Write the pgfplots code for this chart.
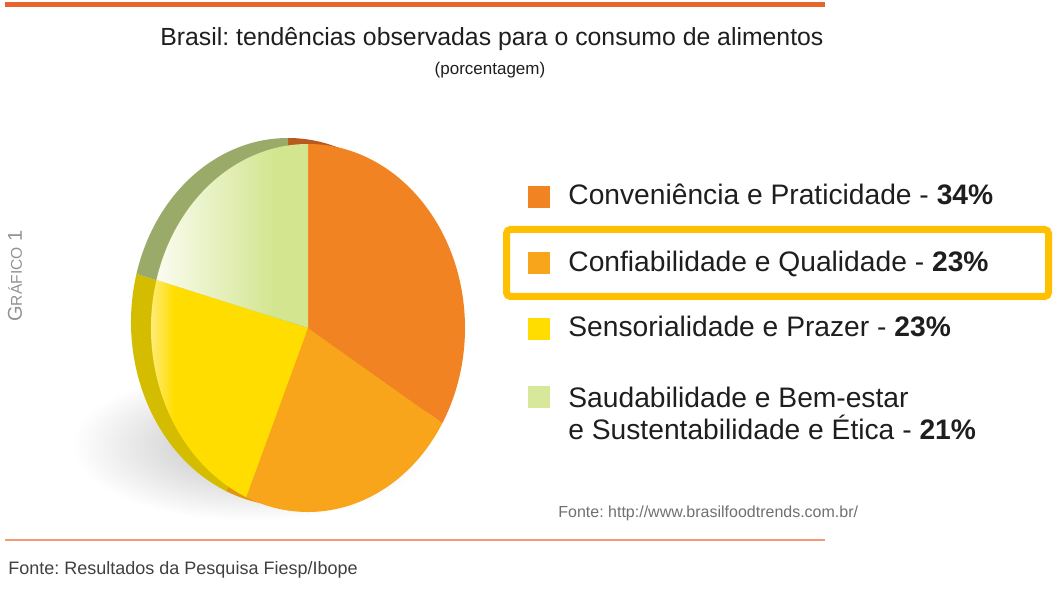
\documentclass[border=0pt]{standalone}
\usepackage{pgfplots}
\pgfplotsset{compat=1.18}
\usepackage{pgfplotstable}
\usepackage{fontspec}
\setmainfont{Liberation Sans}
\frenchspacing

\definecolor{topline}{HTML}{E9642C}
\definecolor{botline}{HTML}{F39B70}
\definecolor{sliceA}{HTML}{F28322}
\definecolor{sliceB}{HTML}{F8A51C}
\definecolor{sliceC}{HTML}{FFDD00}
\definecolor{sliceD}{HTML}{D3E58F}
\definecolor{rimA}{HTML}{B85A1C}
\definecolor{rimB}{HTML}{E0960F}
\definecolor{rimC}{HTML}{D4BD00}
\definecolor{rimD}{HTML}{9AAB69}
\definecolor{yellowlight}{HTML}{FFF6C4}
\definecolor{greenlight}{HTML}{FAFCF0}
\definecolor{hlbox}{HTML}{FFC000}
\definecolor{txt}{HTML}{1E1E1E}
\definecolor{txtgray}{HTML}{707070}
\definecolor{grafgray}{HTML}{929292}

% the path bounding box covers 25bp..75bp of the shading
\pgfdeclarehorizontalshading{yshade}{100bp}{color(0bp)=(yellowlight); color(25bp)=(yellowlight); color(36bp)=(sliceC); color(100bp)=(sliceC)}
\pgfdeclarehorizontalshading{gshade}{100bp}{color(0bp)=(greenlight); color(25bp)=(greenlight); color(64bp)=(sliceD); color(100bp)=(sliceD)}

\pgfplotstableread{
label value
Conveniencia 34
Confiabilidade 23
Sensorialidade 23
Saudabilidade 21
}\piedata

% slice: options, center, start angle, end angle
\newcommand\pieslice[4]{%
  \path[#1] #2 -- ++(#3:78.5pt and 92pt) arc[start angle=#3, end angle=#4, x radius=78.5pt, y radius=92pt] -- cycle;}

\begin{document}
\begin{tikzpicture}
\begin{axis}[x=0.5pt, y=0.5pt, xmin=0, xmax=1054, ymin=0, ymax=599,
  axis lines=none, ticks=none, clip=false]
\path (axis cs:0,0) rectangle (axis cs:1054,599);

% rules
\draw[topline, line width=2.5pt] (axis cs:5,594) -- (axis cs:825,594);
\draw[botline, line width=1pt] (axis cs:5,59) -- (axis cs:825,59);

% shadow
\path[inner color=black!26, outer color=white] (axis cs:252,154) ellipse[x radius=90pt, y radius=38pt];

\pgfplotsextra{%
  \pgfplotstablegetelem{0}{value}\of\piedata \let\va\pgfplotsretval
  \pgfplotstablegetelem{1}{value}\of\piedata \let\vb\pgfplotsretval
  \pgfplotstablegetelem{2}{value}\of\piedata \let\vc\pgfplotsretval
  \pgfplotstablegetelem{3}{value}\of\piedata \let\vd\pgfplotsretval
  \pgfmathsetmacro\tot{\va+\vb+\vc+\vd}
  \pgfmathsetmacro\aA{90}
  \pgfmathsetmacro\aB{\aA-360*\va/\tot}
  \pgfmathsetmacro\aC{\aB-360*\vb/\tot}
  \pgfmathsetmacro\aD{\aC-360*\vc/\tot}
  \pgfmathsetmacro\aE{\aD-360*\vd/\tot}
  % rim (back face)
  \pieslice{fill=rimA}{(axis cs:288,277)}{\aA}{\aB}
  \pieslice{fill=rimB}{(axis cs:288,277)}{\aB}{\aC}
  \pieslice{fill=rimC}{(axis cs:288,277)}{\aC}{\aD}
  \pieslice{fill=rimD}{(axis cs:288,277)}{\aD}{\aE}
  % front face
  \pieslice{fill=sliceA}{(axis cs:308,271)}{\aA}{\aB}
  \pieslice{fill=sliceB}{(axis cs:308,271)}{\aB}{\aC}
  \pieslice{shading=yshade}{(axis cs:308,271)}{\aC}{\aD}
  \pieslice{shading=gshade}{(axis cs:308,271)}{\aD}{\aE}
}

% titles
\node[anchor=base west, text=txt, font=\fontsize{12.4}{14}\selectfont, inner sep=0pt] at (axis cs:160,553) {Brasil: tendências observadas para o consumo de alimentos};
\node[anchor=base, text=txt, font=\fontsize{8.5}{10}\selectfont, inner sep=0pt] at (axis cs:490,524) {(porcentagem)};

% vertical label
\node[rotate=90, text=grafgray, inner sep=0pt] at (axis cs:15,323) {{\fontsize{10}{12}\selectfont G}{\fontsize{7.8}{10}\selectfont RÁFICO} {\fontsize{10}{12}\selectfont 1}};

% legend
\fill[sliceA] (axis cs:528,391) rectangle (axis cs:550,413);
\fill[sliceB] (axis cs:528,325) rectangle (axis cs:550,347);
\fill[sliceC] (axis cs:528,259) rectangle (axis cs:550,281);
\fill[sliceD!90!white] (axis cs:528,191) rectangle (axis cs:550,213);
\begin{scope}[every node/.style={anchor=base west, text=txt, font=\fontsize{14.1}{16}\selectfont, inner sep=0pt}]
\node at (axis cs:568,394) {Conveniência e Praticidade - \textbf{34\%}};
\node at (axis cs:568,327) {Confiabilidade e Qualidade - \textbf{23\%}};
\node at (axis cs:568,262) {Sensorialidade e Prazer - \textbf{23\%}};
\node at (axis cs:568,191) {Saudabilidade e Bem-estar};
\node at (axis cs:568,159) {e Sustentabilidade e Ética - \textbf{21\%}};
\end{scope}
\draw[hlbox, line width=3.5pt, rounded corners=2pt] (axis cs:506.5,369.5) rectangle (axis cs:1048.5,302.5);

% sources
\node[anchor=base west, text=txtgray, font=\fontsize{8.0}{10}\selectfont, inner sep=0pt] at (axis cs:558,81) {Fonte: http://www.brasilfoodtrends.com.br/};
\node[anchor=base west, text=txt!85, font=\fontsize{9}{11}\selectfont, inner sep=0pt] at (axis cs:8,24) {Fonte: Resultados da Pesquisa Fiesp/Ibope};
\end{axis}
\end{tikzpicture}
\end{document}
